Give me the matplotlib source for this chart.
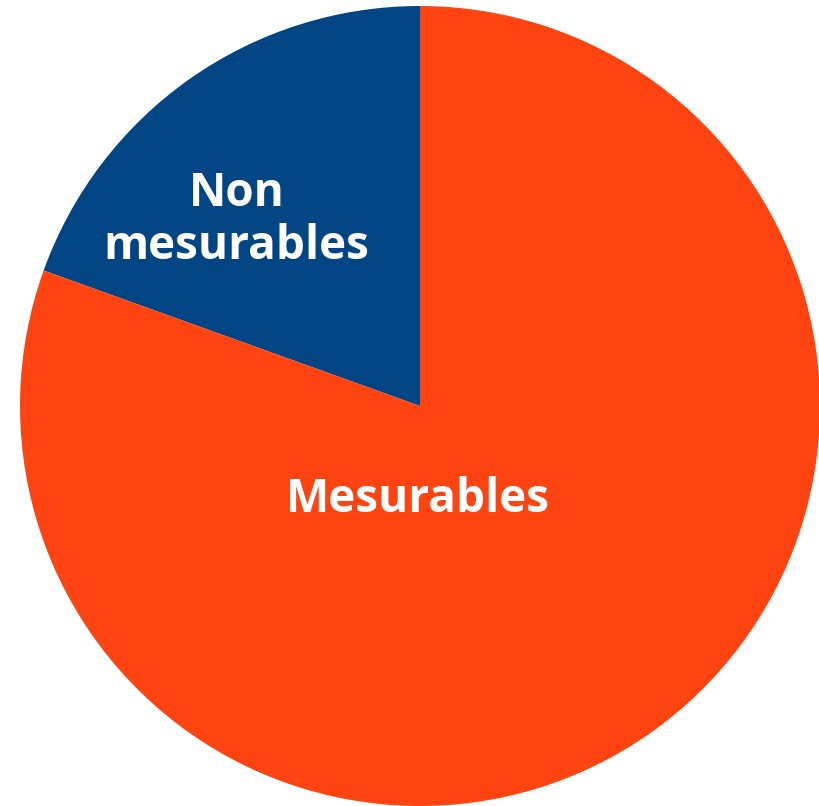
import matplotlib
matplotlib.use("Agg")
import matplotlib.pyplot as plt

labels = ["Non\nmesurables", "Mesurables"]
values = [19.5, 80.5]
colors = ["#024585", "#FF4411"]

fig = plt.figure(figsize=(8.19, 8.06), dpi=100)
ax = fig.add_axes([20 / 819, 0, 800 / 819, 800 / 806])
ax.pie(values, colors=colors, startangle=90, counterclock=True, radius=1,
       wedgeprops=dict(linewidth=0))
ax.set_xlim(-1, 1)
ax.set_ylim(-1, 1)
ax.set_aspect("equal")
ax.axis("off")

# label positions (axes data units)
pos = [(-0.458, 0.465), (-0.005, -0.235)]
for lab, (x, y) in zip(labels, pos):
    ax.text(x, y, lab, ha="center", va="center", color="white",
            fontsize=33, fontweight="bold", family=["Open Sans", "DejaVu Sans"],
            linespacing=1.15)

fig.savefig("out.png", dpi=100)
